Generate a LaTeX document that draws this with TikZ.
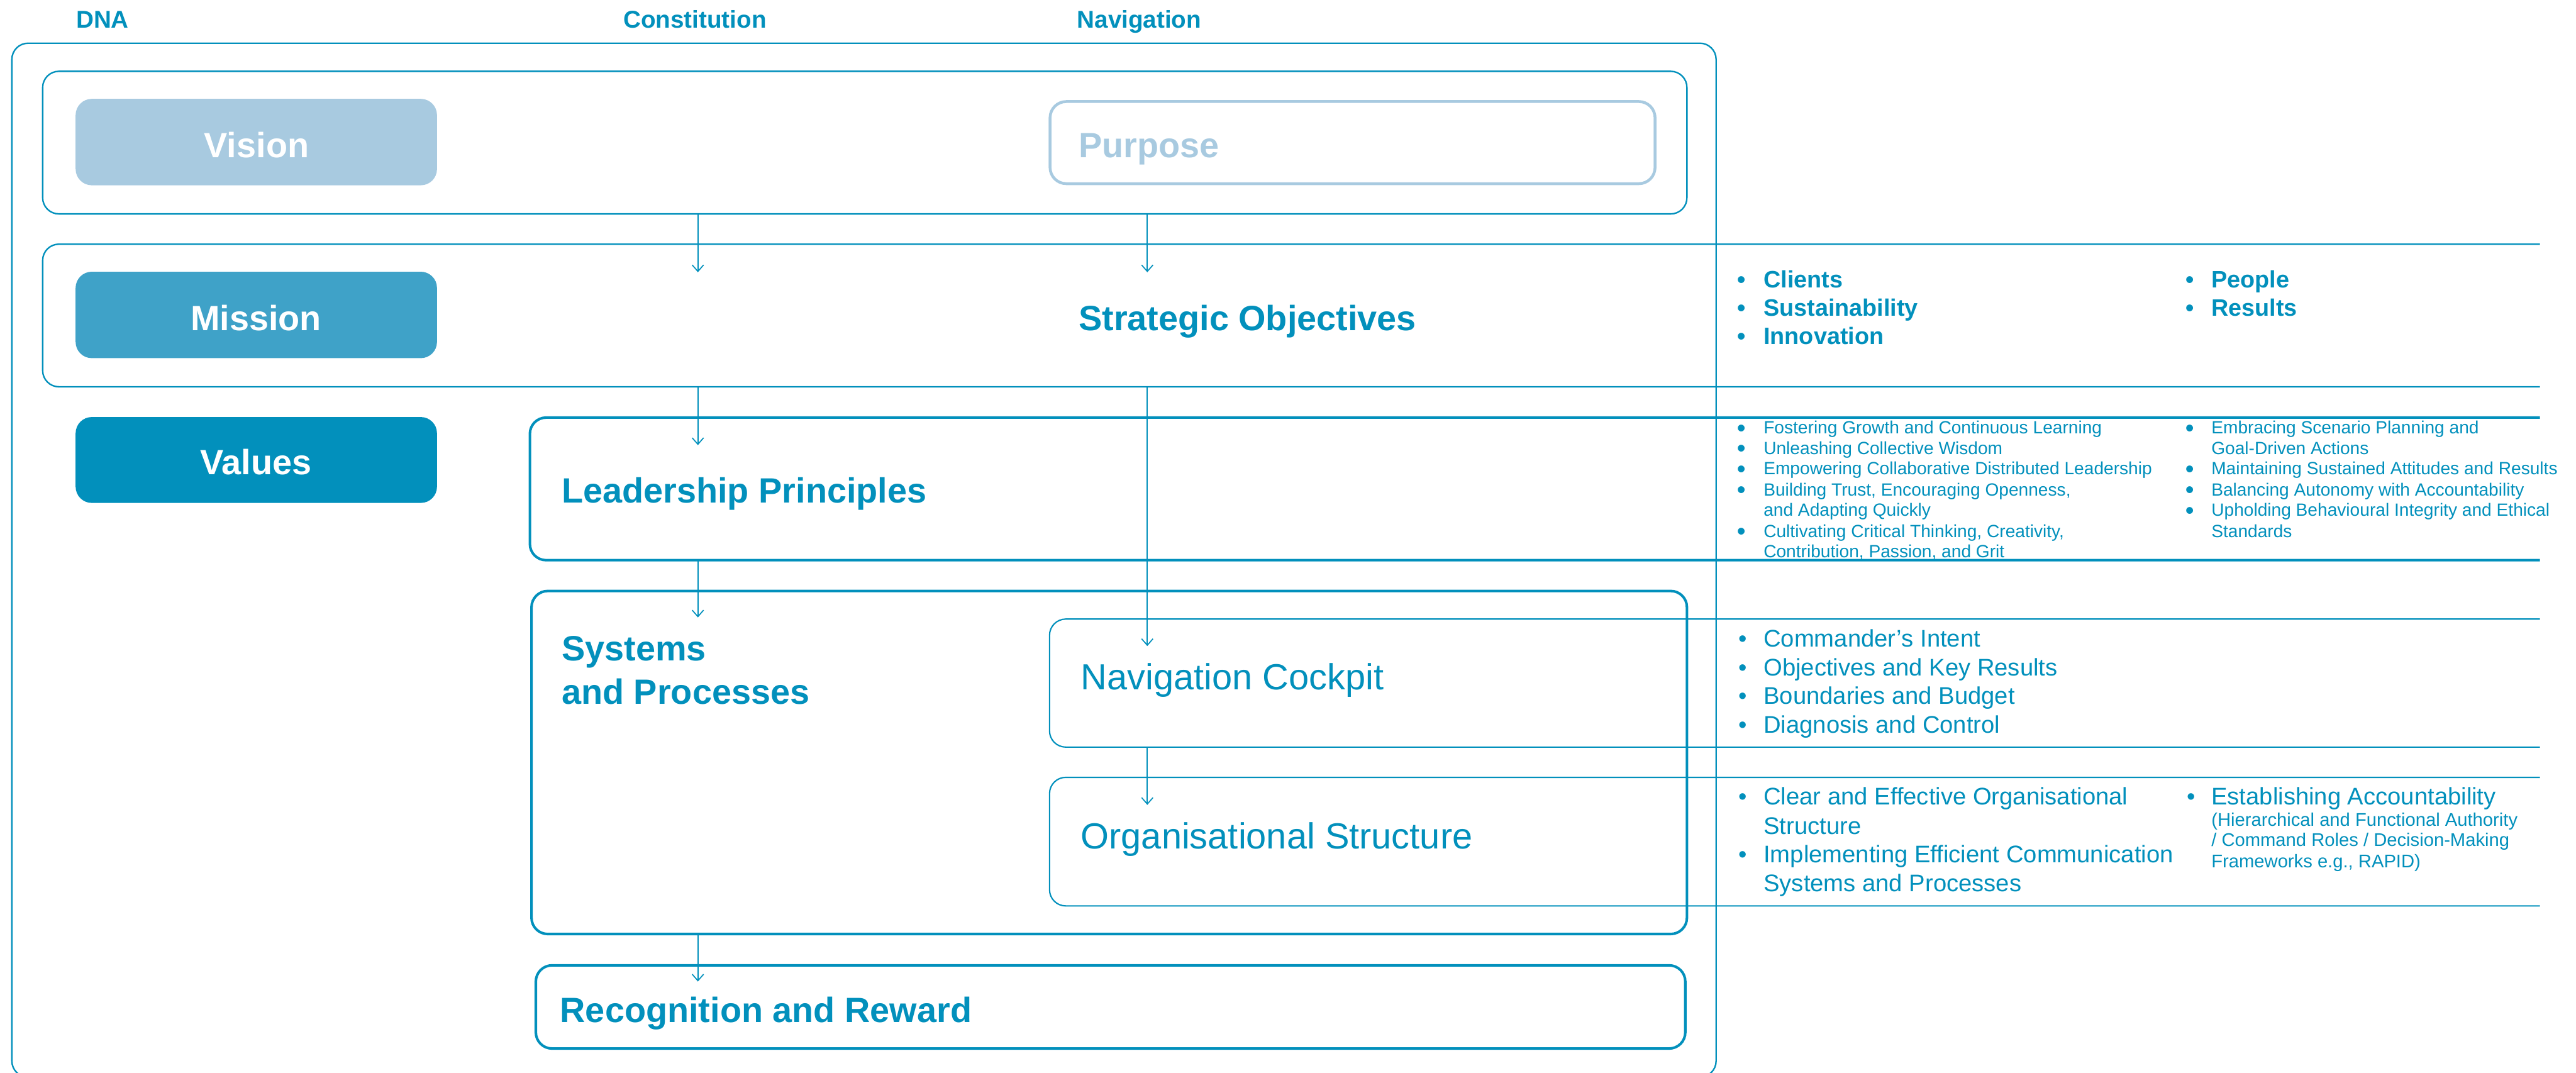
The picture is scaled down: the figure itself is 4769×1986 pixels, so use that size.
\documentclass[tikz,border=0pt]{standalone}
\usepackage{fontspec}
\setmainfont{Liberation Sans}
\usetikzlibrary{arrows.meta}
\definecolor{brand}{HTML}{0290BC}
\definecolor{missionfill}{HTML}{3FA2C8}
\definecolor{visionfill}{HTML}{A8CAE0}

% bullet item: name, bullet x, text x, baseline y, style, text
\newcommand{\bitem}[6]{%
  \node[#5-dot,anchor=base] (#1-dot) at (#2,#4) {•};
  \node[#5,anchor=base west] (#1) at (#3,#4) {#6};}
% continuation line of a bullet item: name, text x, baseline y, style, text
\newcommand{\bcont}[5]{%
  \node[#4,anchor=base west] (#1) at (#2,#3) {#5};}

\begin{document}
\begin{tikzpicture}[x=0.2pt,y=-0.2pt,
  frame/.style={draw=brand, line width=0.55pt, rounded corners=6pt, inner sep=0pt},
  heavy/.style={draw=brand, line width=0.95pt, rounded corners=6pt, inner sep=0pt},
  thinline/.style={draw=brand, line width=0.5pt, rounded corners=6pt},
  pillbox/.style={fill=#1, draw=none, rounded corners=6pt, inner sep=0pt,
    minimum width=133.8pt, minimum height=32pt},
  txt/.style={inner sep=0pt, text=brand},
  hdr/.style={txt, font=\fontsize{9}{10}\selectfont\bfseries, anchor=base west},
  big/.style={txt, font=\fontsize{13}{15}\selectfont\bfseries, anchor=base west},
  pilltxt/.style={inner sep=0pt, text=white, font=\fontsize{13}{15}\selectfont\bfseries, anchor=base},
  mid/.style={txt, font=\fontsize{13.45}{15}\selectfont, anchor=base west},
  lstb/.style={txt, font=\fontsize{8.8}{10}\selectfont\bfseries},
  lstr/.style={txt, font=\fontsize{8.9}{10}\selectfont},
  lsts/.style={txt, font=\fontsize{6.55}{7.6}\selectfont},
  lstt/.style={txt, font=\fontsize{6.8}{7.8}\selectfont},
  lstb-dot/.style={lstb},
  lstr-dot/.style={lstr},
  lsts-dot/.style={txt, font=\fontsize{8.8}{10}\selectfont\bfseries, yshift=-0.8pt},
  arr/.style={draw=brand, line width=0.4pt, -{Straight Barb[length=2.4pt,width=4.2pt]}}
]
\useasboundingbox (0,0) rectangle (4769,1986);

% column headings
\node[hdr] (h-dna) at (140,52) {DNA};
\node[hdr] (h-const) at (1153,52) {Constitution};
\node[hdr] (h-nav) at (1993,52) {Navigation};

% outer frame
\node[frame, minimum width=631pt, minimum height=382.8pt] (outer) at (1599.5,1037) {};

% top row: vision and purpose
\node[frame, minimum width=608.8pt, minimum height=52.8pt] (topbox) at (1601,264) {};
\node[pillbox=visionfill] (vision) at (474.5,263) {};
\node[pilltxt] (vision-t) at (475,292) {Vision};
\node[draw=visionfill, line width=1.05pt, rounded corners=6pt, inner sep=0pt,
      minimum width=224pt, minimum height=30.4pt] (purpose) at (2504,264) {};
\node[big, text=visionfill] (purpose-t) at (1996,292) {Purpose};

% mission row, open to the right
\coordinate (m-top) at (79,452);
\coordinate (m-bot) at (79,716);
\draw[frame] (4702,452) -- (m-top) -- (m-bot) -- (4702,716);
\node[pillbox=missionfill] (mission) at (474.5,583) {};
\node[pilltxt] (mission-t) at (474,612) {Mission};
\node[big] (strat) at (1996,612) {Strategic Objectives};

% values and leadership principles
\node[pillbox=brand, minimum height=31.8pt] (values) at (474.5,851.5) {};
\node[pilltxt] (values-t) at (474,878) {Values};
\coordinate (lp-top) at (981,773);
\coordinate (lp-bot) at (981,1037);
\draw[heavy] (4702,773) -- (lp-top) -- (lp-bot) -- (4702,1037);
\node[big] (lp) at (1039,931) {Leadership Principles};

% systems and processes
\node[heavy, minimum width=427.8pt, minimum height=127pt] (systems) at (2053.5,1411.5) {};
\node[big] (sys-t1) at (1039,1223) {Systems};
\node[big] (sys-t2) at (1039,1304) {and Processes};

\coordinate (nc-top) at (1943,1146);
\coordinate (nc-bot) at (1943,1383);
\draw[thinline] (4702,1146) -- (nc-top) -- (nc-bot) -- (4702,1383);
\node[mid] (nc) at (2000,1277) {Navigation Cockpit};

\coordinate (os-top) at (1943,1439);
\coordinate (os-bot) at (1943,1677);
\draw[thinline] (4702,1439) -- (os-top) -- (os-bot) -- (4702,1677);
\node[mid] (os) at (2000,1571) {Organisational Structure};

% recognition and reward
\node[heavy, minimum width=425.6pt, minimum height=30.8pt] (reward) at (2056,1864) {};
\node[big] (reward-t) at (1036,1892) {Recognition and Reward};

% connectors
\coordinate (colA) at (1292,0);
\coordinate (colB) at (2124,0);
\coordinate (tA1) at (1292,504);
\coordinate (tA2) at (1292,824);
\coordinate (tA3) at (1292,1143);
\coordinate (tA4) at (1292,1817);
\coordinate (tB1) at (2124,504);
\coordinate (tB2) at (2124,1196);
\coordinate (tB3) at (2124,1490);
\draw[arr] (topbox.south -| colA) -- (tA1);
\draw[arr] (m-bot -| colA) -- (tA2);
\draw[arr] (lp-bot -| colA) -- (tA3);
\draw[arr] (systems.south -| colA) -- (tA4);
\draw[arr] (topbox.south -| colB) -- (tB1);
\draw[arr] (m-bot -| colB) -- (tB2);
\draw[arr] (nc-bot -| colB) -- (tB3);

% strategic objectives list
\bitem{so1}{3224}{3264}{533}{lstb}{Clients}
\bitem{so2}{3224}{3264}{585}{lstb}{Sustainability}
\bitem{so3}{3224}{3264}{638}{lstb}{Innovation}
\bitem{so4}{4054}{4093}{533}{lstb}{People}
\bitem{so5}{4054}{4093}{585}{lstb}{Results}

% leadership principles list
\bitem{lp1}{3224}{3264}{803}{lsts}{Fostering Growth and Continuous Learning}
\bitem{lp2}{3224}{3264}{841}{lsts}{Unleashing Collective Wisdom}
\bitem{lp3}{3224}{3264}{879}{lsts}{Empowering Collaborative Distributed Leadership}
\bitem{lp4}{3224}{3264}{918}{lsts}{Building Trust, Encouraging Openness,}
\bcont{lp4b}{3264}{955.5}{lsts}{and Adapting Quickly}
\bitem{lp5}{3224}{3264}{994.7}{lsts}{Cultivating Critical Thinking, Creativity,}
\bcont{lp5b}{3264}{1032.6}{lsts}{Contribution, Passion, and Grit}
\bitem{lp6}{4054}{4093}{803}{lsts}{Embracing Scenario Planning and}
\bcont{lp6b}{4093}{841}{lsts}{Goal-Driven Actions}
\bitem{lp7}{4054}{4093}{879}{lsts}{Maintaining Sustained Attitudes and Results}
\bitem{lp8}{4054}{4093}{918}{lsts}{Balancing Autonomy with Accountability}
\bitem{lp9}{4054}{4093}{955.5}{lsts}{Upholding Behavioural Integrity and Ethical}
\bcont{lp9b}{4093}{994.7}{lsts}{Standards}

% navigation cockpit list
\bitem{nc1}{3227}{3264}{1198}{lstr}{Commander’s Intent}
\bitem{nc2}{3227}{3264}{1251}{lstr}{Objectives and Key Results}
\bitem{nc3}{3227}{3264}{1304}{lstr}{Boundaries and Budget}
\bitem{nc4}{3227}{3264}{1357}{lstr}{Diagnosis and Control}

% organisational structure list
\bitem{os1}{3227}{3264}{1490}{lstr}{Clear and Effective Organisational}
\bcont{os1b}{3264}{1544}{lstr}{Structure}
\bitem{os2}{3227}{3264}{1597}{lstr}{Implementing Efficient Communication}
\bcont{os2b}{3264}{1650}{lstr}{Systems and Processes}
\bitem{os3}{4057}{4093}{1490}{lstr}{Establishing Accountability}
\bcont{os3b}{4093}{1529}{lstt}{(Hierarchical and Functional Authority}
\bcont{os3c}{4093}{1567}{lstt}{/ Command Roles / Decision-Making}
\bcont{os3d}{4093}{1606}{lstt}{Frameworks e.g., RAPID)}

\end{tikzpicture}
\end{document}
